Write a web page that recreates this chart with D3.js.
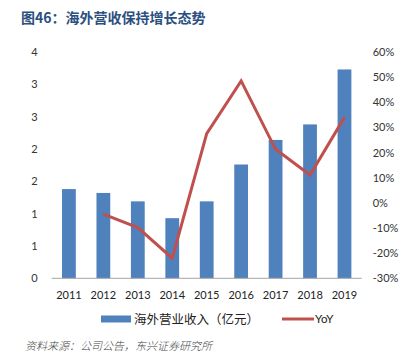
<!DOCTYPE html>
<html><head><meta charset="utf-8">
<script src="https://cdn.jsdelivr.net/npm/d3@7"></script>
<style>body{margin:0;background:#fff}svg{display:block}</style>
</head><body><svg id="c" width="404" height="356"></svg>
<script>
const years = ["2011","2012","2013","2014","2015","2016","2017","2018","2019"];
const revenue = [1.38, 1.32, 1.19, 0.93, 1.19, 1.76, 2.14, 2.38, 3.23];
const yoy = [null, -4.5, -9.8, -22.0, 27.5, 48.5, 21.3, 11.1, 34.0];
const leftTicks = [0, 0.5, 1, 1.5, 2, 2.5, 3, 3.5];
const leftTickLabels = ["0","1","1","2","2","3","3","4"];
const rightTicks = [-30,-20,-10,0,10,20,30,40,50,60];
const title = "图46：海外营收保持增长态势";
const source = "资料来源：公司公告，东兴证券研究所";
const legendLabels = ["海外营业收入（亿元）", "YoY"];

const svg = d3.select("#c");
const L = 51.7, R = 361.7, T = 52, B = 278.3;
const latin = "Lato, 'Noto Sans', sans-serif";
const cjk = "'Noto Sans CJK SC', sans-serif";

const x = d3.scaleBand().domain(years).range([L, R]).paddingInner(0.6).paddingOuter(0.3);
const yL = d3.scaleLinear().domain([0, 3.5]).range([B, T]);
const yR = d3.scaleLinear().domain([-30, 60]).range([B, T]);

svg.append("text").attr("x", 21).attr("y", 23).attr("fill", "#2C4F80")
  .attr("font-family", cjk).attr("font-weight", "bold").attr("font-size", 14).text(title);

// bars
svg.append("g").selectAll("rect").data(years).join("rect")
  .attr("x", d => x(d)).attr("width", x.bandwidth())
  .attr("y", (d,i) => yL(revenue[i])).attr("height", (d,i) => B - yL(revenue[i]))
  .attr("fill", "#4F81BD");

// baseline
svg.append("line").attr("x1", L).attr("x2", R).attr("y1", B).attr("y2", B)
  .attr("stroke", "#A6A6A6").attr("stroke-width", 1);

// left axis
const gl = svg.append("g").attr("transform", `translate(${L - 14},0)`)
  .call(d3.axisLeft(yL).tickValues(leftTicks).tickFormat((d,i) => leftTickLabels[i]).tickSize(0));
gl.select(".domain").remove();
gl.selectAll("text").attr("font-family", latin).attr("font-size", 11).attr("fill", "#333").attr("x", 0);

// right axis
const gr = svg.append("g").attr("transform", `translate(${R + 11},0)`)
  .call(d3.axisRight(yR).tickValues(rightTicks).tickFormat(d => d + "%").tickSize(0));
gr.select(".domain").remove();
gr.selectAll("text").attr("font-family", latin).attr("font-size", 11).attr("fill", "#333").attr("x", 0);

// x axis
const gx = svg.append("g").attr("transform", `translate(0,${B + 10})`)
  .call(d3.axisBottom(x).tickSize(0));
gx.select(".domain").remove();
gx.selectAll("text").attr("font-family", latin).attr("font-size", 11).attr("fill", "#222").attr("dy", "0.71em");

// line
const line = d3.line().defined(d => d != null)
  .x((d,i) => x(years[i]) + x.bandwidth()/2).y(d => yR(d));
svg.append("path").datum(yoy).attr("d", line).attr("fill", "none")
  .attr("stroke", "#C0504D").attr("stroke-width", 3).attr("stroke-linejoin", "miter");

// legend
svg.append("rect").attr("x", 101).attr("y", 315.5).attr("width", 30).attr("height", 7).attr("fill", "#4F81BD");
svg.append("text").attr("x", 134).attr("y", 323.5).attr("font-family", cjk).attr("font-size", 12.5)
  .attr("fill", "#222").text(legendLabels[0]);
svg.append("line").attr("x1", 282).attr("x2", 314).attr("y1", 319).attr("y2", 319)
  .attr("stroke", "#C0504D").attr("stroke-width", 3);
svg.append("text").attr("x", 315).attr("y", 323).attr("font-family", latin).attr("font-size", 11.5)
  .attr("fill", "#222").text(legendLabels[1]);

// source
svg.append("text").attr("x", 25).attr("y", 350).attr("font-family", cjk).attr("font-size", 11)
  .attr("font-style", "italic").attr("font-weight", 300).attr("fill", "#444").text(source);
</script></body></html>
